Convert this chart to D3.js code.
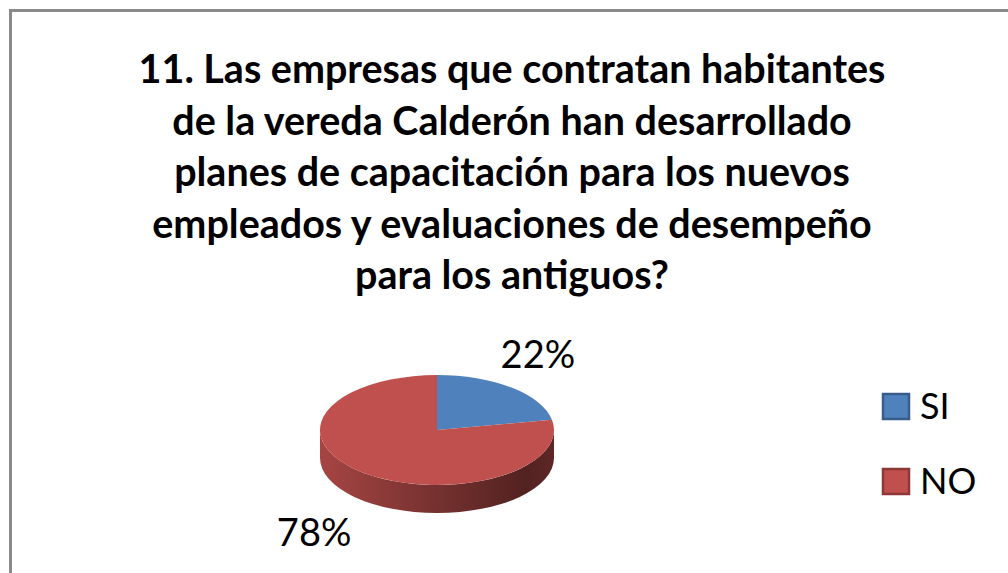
<!DOCTYPE html>
<html>
  <head>
    <meta charset="utf-8">
    <script src="https://d3js.org/d3.v7.min.js"></script>
    <style>
      body { margin: 0; background: #fff; }
    </style>
  </head>
  <body>
    <div id="chart"></div>
    <script>
      // data
      var categories = ["SI", "NO"];
      var values = [22, 78];
      var titleLines = [
        "11. Las empresas que contratan habitantes",
        "de la vereda Calderón han desarrollado",
        "planes de capacitación para los nuevos",
        "empleados y evaluaciones de desempeño",
        "para los antiguos?"
      ];

      var width = 1008, height = 573;
      var fontFamily = "Lato, 'Open Sans', sans-serif";

      var svg = d3.select("#chart").append("svg")
        .attr("width", width)
        .attr("height", height);

      // chart border (only left and top visible in the crop)
      svg.append("rect")
        .attr("x", 10.5).attr("y", 10.5)
        .attr("width", width + 20).attr("height", height + 20)
        .style("fill", "#fff")
        .style("stroke", "#8a8a8a")
        .style("stroke-width", 3);

      // title
      var title = svg.append("g")
        .style("font-family", fontFamily)
        .style("font-weight", "bold")
        .style("fill", "#000");
      var titleText = title.selectAll("text")
        .data(titleLines)
        .enter().append("text")
        .attr("x", 512)
        .attr("y", function(d, i) { return 83 + i * 51.5; })
        .attr("text-anchor", "middle")
        .style("font-size", "36px")
        .text(function(d) { return d; });
      // scale font so the first line has the original width
      var w0 = titleText.node().getComputedTextLength();
      titleText.style("font-size", (36 * 747 / w0) + "px");

      // 3D pie
      var cx = 437, cy = 430, rx = 117, ry = 55, depth = 28;
      var color = d3.scaleOrdinal().domain(categories).range(["#4f81bd", "#c0504d"]);
      var sideColor = d3.scaleOrdinal().domain(categories).range(["#385d8a", "#8c3836"]);

      var pie = d3.pie().sort(null).value(function(d) { return d.value; });
      var arcs = pie(categories.map(function(c, i) { return { name: c, value: values[i] }; }));

      function pt(a, dy) {
        return [cx + rx * Math.sin(a), cy - ry * Math.cos(a) + (dy || 0)];
      }

      var defs = svg.append("defs");
      categories.forEach(function(c, i) {
        var g = defs.append("linearGradient")
          .attr("id", "side" + i)
          .attr("gradientUnits", "userSpaceOnUse")
          .attr("x1", cx - rx).attr("x2", cx + rx)
          .attr("y1", 0).attr("y2", 0);
        var base = d3.color(color(c));
        g.append("stop").attr("offset", "0%").attr("stop-color", base.darker(0.4));
        g.append("stop").attr("offset", "50%").attr("stop-color", base.darker(1.4));
        g.append("stop").attr("offset", "88%").attr("stop-color", base.darker(2.4));
        g.append("stop").attr("offset", "100%").attr("stop-color", base.darker(2.0));
      });

      // side walls: visible part lies between PI/2 and 3PI/2
      var sides = svg.append("g");
      arcs.forEach(function(d, i) {
        var a0 = Math.max(d.startAngle, Math.PI / 2);
        var a1 = Math.min(d.endAngle, Math.PI * 1.5);
        if (a1 <= a0) return;
        var p0 = pt(a0), p1 = pt(a1), q1 = pt(a1, depth), q0 = pt(a0, depth);
        var path = "M" + p0 + " A" + rx + "," + ry + " 0 0 1 " + p1 +
          " L" + q1 + " A" + rx + "," + ry + " 0 0 0 " + q0 + " Z";
        sides.append("path")
          .attr("d", path)
          .style("fill", "url(#side" + i + ")");
      });

      // top faces
      svg.append("g").selectAll("path")
        .data(arcs)
        .enter().append("path")
        .attr("d", function(d) {
          var p0 = pt(d.startAngle), p1 = pt(d.endAngle);
          var large = d.endAngle - d.startAngle > Math.PI ? 1 : 0;
          return "M" + cx + "," + cy + " L" + p0 + " A" + rx + "," + ry + " 0 " + large + " 1 " + p1 + " Z";
        })
        .style("fill", function(d) { return color(d.data.name); });

      // percent labels
      var total = d3.sum(values);
      svg.append("g").selectAll("text")
        .data(arcs)
        .enter().append("text")
        .attr("x", function(d) {
          var a = (d.startAngle + d.endAngle) / 2;
          return cx + rx * 1.5 * Math.sin(a) - 11;
        })
        .attr("y", function(d) {
          var a = (d.startAngle + d.endAngle) / 2;
          var y = cy - ry * 1.77 * Math.cos(a);
          if (Math.cos(a) < 0) y += depth;
          return y + 13;
        })
        .attr("text-anchor", "middle")
        .style("font-family", fontFamily)
        .style("font-size", "38px")
        .style("fill", "#000")
        .text(function(d) { return Math.round(d.data.value / total * 100) + "%"; });

      // legend
      var legend = svg.append("g").selectAll("g")
        .data(categories)
        .enter().append("g")
        .attr("transform", function(d, i) { return "translate(883," + (394 + i * 75) + ")"; });
      legend.append("rect")
        .attr("width", 26).attr("height", 25)
        .style("fill", function(d) { return color(d); })
        .style("stroke", function(d) { return sideColor(d); })
        .style("stroke-width", 2.5);
      legend.append("text")
        .attr("x", 37).attr("y", 25)
        .style("font-family", fontFamily)
        .style("font-size", "36px")
        .style("fill", "#000")
        .text(function(d) { return d; });
    </script>
  </body>
</html>
